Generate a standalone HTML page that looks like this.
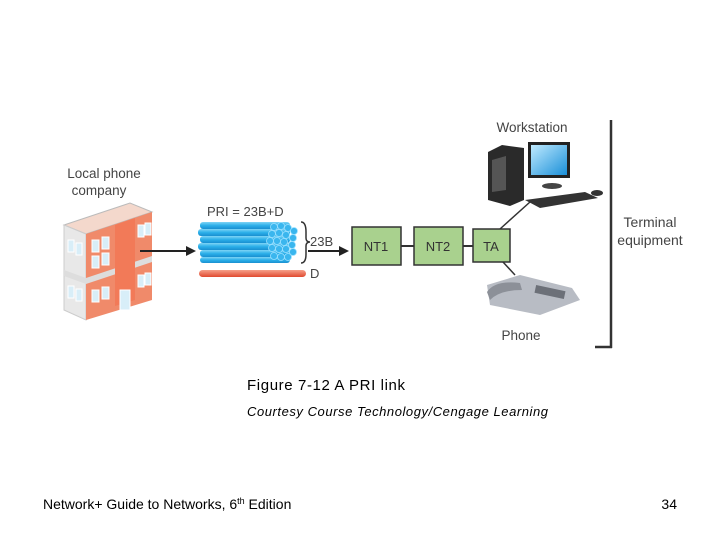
<!DOCTYPE html>
<html><head><style>
body{margin:0;background:#fff;}
svg{display:block;}
</style></head><body>
<svg width="720" height="540" viewBox="0 0 720 540" font-family="Liberation Sans, sans-serif">
<defs>
<linearGradient id="bl" x1="0" y1="0" x2="0" y2="1"><stop offset="0" stop-color="#7fd4f5"/><stop offset="0.5" stop-color="#2bb0ea"/><stop offset="1" stop-color="#1a8fd0"/></linearGradient>
<linearGradient id="rd" x1="0" y1="0" x2="0" y2="1"><stop offset="0" stop-color="#f5a08a"/><stop offset="1" stop-color="#e04a30"/></linearGradient>
<linearGradient id="scr" x1="0" y1="0" x2="1" y2="1"><stop offset="0" stop-color="#bfeaff"/><stop offset="1" stop-color="#1a8fd8"/></linearGradient>
</defs>
<text x="104" y="178" font-size="13.5" fill="#444" text-anchor="middle">Local phone</text>
<text x="99" y="195" font-size="13.5" fill="#444" text-anchor="middle">company</text>
<!-- building -->
<polygon points="64,225 130,203 152,212 86,234" fill="#f4d8cc" stroke="#bbb"/>
<polygon points="64,225 86,234 86,320 64,310" fill="#e8e8e8" stroke="#ccc"/>
<polygon points="86,234 152,212 152,300 86,320" fill="#f08a6a"/>
<polygon points="64,270 86,278 152,256 152,262 86,284 64,276" fill="#ddd"/>
<polygon points="115,225 135,218 135,300 115,306" fill="#f27a58"/>
<g fill="#d8eef8" stroke="#fff" stroke-width="1">
<rect x="92" y="240" width="7" height="12"/><rect x="102" y="237" width="7" height="12"/>
<rect x="92" y="256" width="7" height="12"/><rect x="102" y="253" width="7" height="12"/>
<rect x="138" y="225" width="6" height="12"/><rect x="145" y="223" width="6" height="12"/>
<rect x="92" y="290" width="7" height="12"/><rect x="102" y="287" width="7" height="12"/>
<rect x="138" y="275" width="6" height="12"/><rect x="145" y="273" width="6" height="12"/>
<rect x="68" y="240" width="6" height="12"/><rect x="76" y="243" width="6" height="12"/>
<rect x="68" y="286" width="6" height="12"/><rect x="76" y="289" width="6" height="12"/>
<rect x="120" y="290" width="10" height="20"/>
</g>
<line x1="140" y1="251" x2="188" y2="251" stroke="#222" stroke-width="2"/>
<polygon points="196,251 186,246 186,256" fill="#222"/>
<text x="207" y="216" font-size="13" fill="#444">PRI = 23B+D</text>
<g fill="url(#bl)">
<rect x="200" y="222" width="90" height="7" rx="3"/>
<rect x="198" y="229" width="92" height="7" rx="3"/>
<rect x="200" y="236" width="90" height="7" rx="3"/>
<rect x="198" y="243" width="92" height="7" rx="3"/>
<rect x="200" y="250" width="90" height="7" rx="3"/>
<rect x="200" y="257" width="90" height="6" rx="3"/>
</g>
<g fill="#3ab6ee" stroke="#9be0ff" stroke-width="0.8">
<circle cx="274" cy="227" r="3.5"/><circle cx="281" cy="226" r="3.5"/><circle cx="288" cy="228" r="3.5"/><circle cx="294" cy="231" r="3.5"/>
<circle cx="272" cy="234" r="3.5"/><circle cx="279" cy="233" r="3.5"/><circle cx="286" cy="235" r="3.5"/><circle cx="293" cy="238" r="3.5"/>
<circle cx="270" cy="241" r="3.5"/><circle cx="277" cy="241" r="3.5"/><circle cx="284" cy="242" r="3.5"/><circle cx="292" cy="245" r="3.5"/>
<circle cx="272" cy="248" r="3.5"/><circle cx="279" cy="249" r="3.5"/><circle cx="286" cy="249" r="3.5"/><circle cx="293" cy="252" r="3.5"/>
<circle cx="274" cy="256" r="3.5"/><circle cx="281" cy="257" r="3.5"/><circle cx="288" cy="257" r="3.5"/>
</g>
<path d="M301,222 Q306,222 306,232 L306,238 Q306,242 310,242 Q306,242 306,246 L306,254 Q306,263 301,263" fill="none" stroke="#333" stroke-width="1.5"/>
<text x="310" y="246" font-size="13" fill="#444">23B</text>
<rect x="199" y="270" width="107" height="7" rx="3.5" fill="url(#rd)"/>
<text x="310" y="278" font-size="13" fill="#444">D</text>
<line x1="308" y1="251" x2="340" y2="251" stroke="#222" stroke-width="2"/>
<polygon points="349,251 339,246 339,256" fill="#222"/>
<g fill="#a9d18e" stroke="#333" stroke-width="1.5">
<rect x="352" y="227" width="49" height="38"/>
<rect x="414" y="227" width="49" height="38"/>
<rect x="473" y="229" width="37" height="33"/>
</g>
<line x1="401" y1="246" x2="414" y2="246" stroke="#333" stroke-width="2"/>
<line x1="463" y1="246" x2="473" y2="246" stroke="#333" stroke-width="2"/>
<text x="376" y="251" font-size="13" fill="#333" text-anchor="middle">NT1</text>
<text x="438" y="251" font-size="13" fill="#333" text-anchor="middle">NT2</text>
<text x="491" y="251" font-size="13" fill="#333" text-anchor="middle">TA</text>
<line x1="500" y1="229" x2="530" y2="202" stroke="#333" stroke-width="1.5"/>
<line x1="503" y1="262" x2="515" y2="275" stroke="#333" stroke-width="1.5"/>
<text x="532" y="132" font-size="13.5" fill="#444" text-anchor="middle">Workstation</text>
<polygon points="488,152 502,145 524,148 524,200 510,206 488,200" fill="#2a2a2a"/>
<polygon points="492,160 506,156 506,190 492,192" fill="#555"/>
<rect x="528" y="142" width="42" height="36" fill="#222"/>
<rect x="531" y="145" width="36" height="30" fill="url(#scr)"/>
<ellipse cx="552" cy="186" rx="10" ry="3" fill="#444"/>
<polygon points="525,200 585,192 598,198 540,208" fill="#333"/>
<ellipse cx="597" cy="193" rx="6" ry="3" fill="#333"/>
<polygon points="487,285 520,275 572,288 580,300 540,315 490,305" fill="#b8bcc4"/>
<path d="M487,292 Q495,280 520,283 L522,290 Q500,290 490,300 Z" fill="#8c9098"/>
<rect x="535" y="288" width="30" height="8" fill="#6c7078" transform="rotate(12 550 292)"/>
<text x="521" y="340" font-size="13.5" fill="#444" text-anchor="middle">Phone</text>
<line x1="611" y1="120" x2="611" y2="348" stroke="#333" stroke-width="2.5"/>
<line x1="595" y1="347" x2="612" y2="347" stroke="#333" stroke-width="2.5"/>
<text x="650" y="227" font-size="14" fill="#444" text-anchor="middle">Terminal</text>
<text x="650" y="245" font-size="14" fill="#444" text-anchor="middle">equipment</text>
<text x="247" y="390" font-size="15" textLength="158" fill="#000">Figure 7-12 A PRI link</text>
<text x="247" y="416" font-size="13" font-style="italic" textLength="301" fill="#000">Courtesy Course Technology/Cengage Learning</text>
<text x="43" y="509" font-size="14" fill="#000">Network+ Guide to Networks, 6<tspan font-size="9" dy="-5">th</tspan><tspan dy="5"> Edition</tspan></text>
<text x="677" y="509" font-size="14" fill="#000" text-anchor="end">34</text>
</svg>
</body></html>
